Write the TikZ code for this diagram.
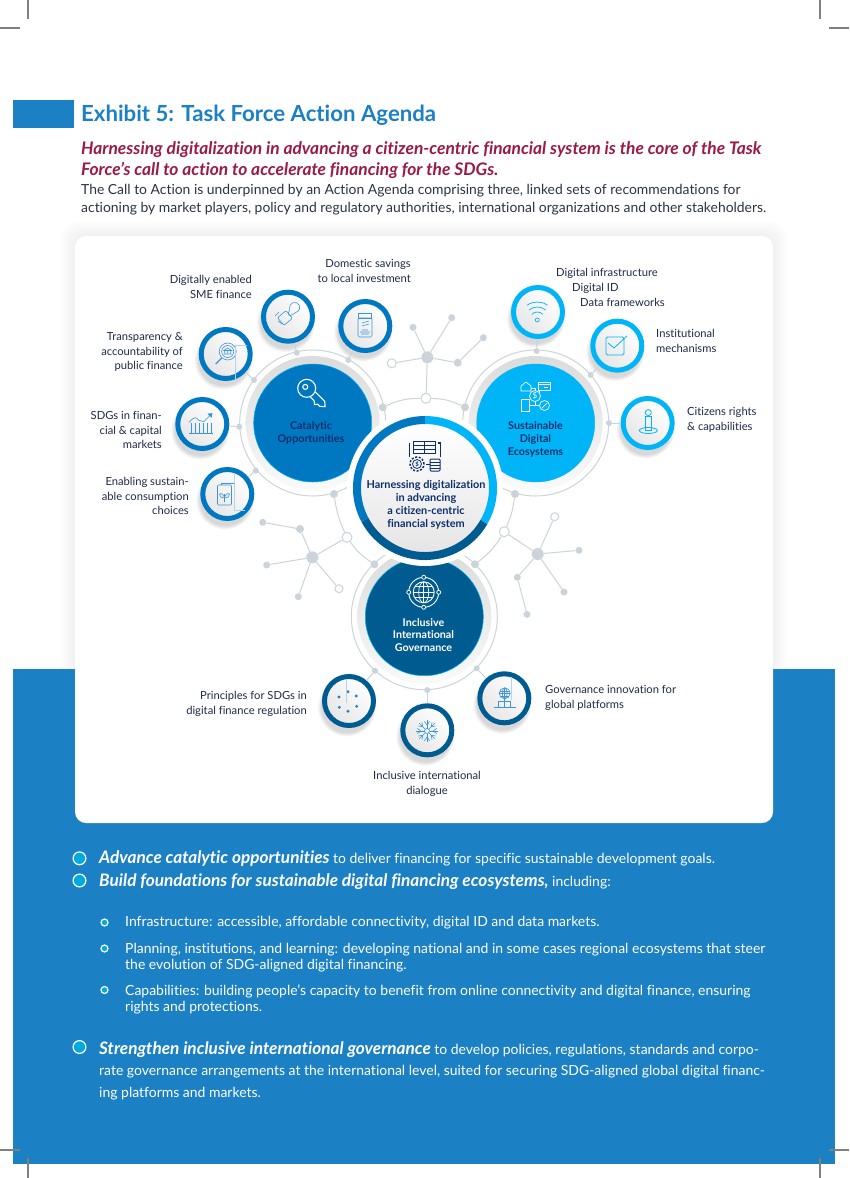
\documentclass[tikz,border=0pt]{standalone}
\usepackage{fontspec}
\setmainfont{Lato}[Ligatures=NoCommon]
\usepackage{xcolor}
\usetikzlibrary{shapes,arrows,positioning,calc,shadows,fadings}

\definecolor{pageblue}{HTML}{1B80C4}
\definecolor{wine}{HTML}{9B1B44}
\definecolor{bodyc}{HTML}{2B3442}
\definecolor{labc}{HTML}{1E2A48}
\definecolor{navy}{HTML}{0B2F6E}
\definecolor{midblue}{HTML}{0078C1}
\definecolor{skyblue}{HTML}{00B5F7}
\definecolor{deepblue}{HTML}{005B90}
\definecolor{netgrey}{HTML}{CBD4DB}
\definecolor{icon}{HTML}{3A95DA}
\definecolor{bullet}{HTML}{00A9E0}

\tikzset{
    lab/.style={font=\fontsize{11.2}{14.7}\selectfont, text=labc, inner sep=0pt},
    hub/.style={circle, fill=netgrey, minimum size=#1, inner sep=0pt},
    hub/.default=8pt,
    open/.style={circle, draw=netgrey, fill=white, line width=1pt, minimum size=#1, inner sep=0pt},
    open/.default=10pt,
    net/.style={draw=netgrey, line width=1pt},
    ringc/.style={circle, draw=netgrey, fill=white, line width=1pt, minimum size=146pt, inner sep=0pt},
    halo/.style={circle, top color=black!14, bottom color=black!2, minimum size=134pt, inner sep=0pt},
    disc/.style={circle, fill=#1, minimum size=118pt, inner sep=0pt},
    pillartext/.style={align=center, inner sep=0pt, font=\fontsize{10.7}{12.6}\selectfont\bfseries},
    sat/.style={circle, draw=#1, line width=5pt, minimum size=49pt, inner sep=0pt,
        left color=white, right color=black!10, shading angle=-45,
        circular drop shadow={shadow xshift=-2pt, shadow yshift=-5pt, shadow scale=1.2, opacity=.3},
        general shadow={shadow xshift=-1.2pt, shadow yshift=-1.2pt, fill=#1!75!black}},
    ico/.style={draw=icon, line width=.6pt},
    faint/.style={draw=icon!40, line width=.4pt},
    whiteico/.style={draw=white, line width=1.1pt},
    head/.style={font=\fontsize{13.9}{16}\selectfont, text=bodyc, inner sep=0pt, anchor=base west},
    ontext/.style={font=\fontsize{13.96}{16}\selectfont, text=white, inner sep=0pt, anchor=base west},
    bul/.style={circle, fill=bullet, draw=white, line width=1.2pt, minimum size=12.8pt, inner sep=0pt},
    subbul/.style={circle, fill=bullet, draw=white, line width=1.2pt, minimum size=7pt, inner sep=0pt},
}
\newcommand{\bigit}[1]{{\fontsize{17.2}{16}\selectfont\bfseries\itshape #1}}

\begin{document}
\begin{tikzpicture}[x=1pt, y=-1pt]
    \useasboundingbox (0,0) rectangle (849,1178);
    \fill[white] (0,0) rectangle (849,1178);

    % Page blocks
    \foreach \sp in {2,4,...,14} {
        \fill[black, opacity=.008, rounded corners=13pt] (75-\sp,236-\sp) rectangle (773+\sp,700);
    }
    \fill[pageblue] (13,100) rectangle (74,128);
    \fill[pageblue] (13,669) rectangle (835,1164);
    \fill[white, rounded corners=11pt] (75,236) rectangle (773,823);

    % Crop marks
    \draw[gray, line width=1.1pt] (28,0) -- (28,19) (0,28) -- (20,28);
    \draw[gray, line width=1.1pt] (820,0) -- (820,19) (829,28) -- (849,28);
    \draw[gray, line width=1.1pt] (28,1158) -- (28,1178) (0,1150) -- (20,1150);
    \draw[gray, line width=1.1pt] (820,1158) -- (820,1178) (829,1150) -- (849,1150);

    % Heading
    \node[inner sep=0pt, anchor=base west, text=pageblue, font=\fontsize{22.2}{24}\selectfont\bfseries] (title) at (81,121.3) {Exhibit 5: Task Force Action Agenda};
    \node[inner sep=0pt, anchor=base west, text=wine, font=\fontsize{17.35}{20}\selectfont\bfseries\itshape] (subone) at (81,154.5) {Harnessing digitalization in advancing a citizen-centric financial system is the core of the Task};
    \node[inner sep=0pt, anchor=base west, text=wine, font=\fontsize{17.35}{20}\selectfont\bfseries\itshape] (subtwo) at (81,175.5) {Force’s call to action to accelerate financing for the SDGs.};
    \node[head] (introone) at (81,194) {The Call to Action is underpinned by an Action Agenda comprising three, linked sets of recommendations for};
    \node[head] (introtwo) at (81,212.7) {actioning by market players, policy and regulatory authorities, international organizations and other stakeholders.};

    % Rings of the three pillars
    \node[ringc] (catring) at (312.7,423) {};
    \node[ringc] (susring) at (535.7,423) {};
    \node[ringc] (govring) at (424.3,616.7) {};
    \node[halo] at (catring) {};
    \node[halo] at (susring) {};
    \node[halo] at (govring) {};

    % Top network
    \node[hub=12pt] (tophub) at (427.3,357.3) {};
    \node[hub=7pt] (topa) at (451.7,317.7) {};
    \node[hub=8pt] (topb) at (457.7,362.7) {};
    \node[hub=7pt] (topc) at (483.3,337.7) {};
    \node[hub=7pt] (topd) at (413,327.3) {};
    \node[open=9pt] (tope) at (391.7,363.3) {};
    \node[open=10pt] (topf) at (426,398.3) {};
    \node[hub=8pt] (topl) at (382.7,407.3) {};
    \node[hub=8pt] (topr) at (465,407.3) {};
    \draw[net] (tophub) -- (topa);
    \draw[net] (tophub) -- (topb);
    \draw[net] (topb) -- (topc);
    \draw[net] (tophub) -- (topd);
    \draw[net] (tophub) -- (tope);
    \draw[net] (tophub) -- (topf);
    \draw[net] (topl) to[bend left=12] (topf);
    \draw[net] (topf) to[bend left=12] (topr);

    % Left network
    \node[hub=12pt] (lefthub) at (312.3,557.3) {};
    \node[hub=8pt] (lefta) at (300,529) {};
    \node[hub=7pt] (leftb) at (262.7,522.3) {};
    \node[hub=7pt] (leftc) at (266.7,565) {};
    \node[hub=7pt] (leftd) at (298.3,596.7) {};
    \node[open=8pt] (lefte) at (339,588.7) {};
    \node[open=10pt] (leftf) at (347,537.3) {};
    \node[hub=8pt] (leftt) at (334,494) {};
    \node[hub=8pt] (leftl) at (374.3,564.3) {};
    \draw[net] (lefthub) -- (lefta);
    \draw[net] (lefta) -- (leftb);
    \draw[net] (lefthub) -- (leftc);
    \draw[net] (lefthub) -- (leftd);
    \draw[net] (lefthub) -- (lefte);
    \draw[net] (lefthub) -- (leftf);
    \draw[net] (leftt) to[bend right=8] (leftf);
    \draw[net] (leftf) to[bend right=10] (leftl);

    % Right network
    \node[hub=12pt] (righthub) at (537.7,554) {};
    \node[open=10pt] (righta) at (504.3,531.7) {};
    \node[open=8pt] (rightb) at (554.7,516.7) {};
    \node[hub=7pt] (rightc) at (579,550.3) {};
    \node[hub=7pt] (rightd) at (564,592) {};
    \node[hub=7pt] (righte) at (517.3,577.3) {};
    \node[hub=7pt] (rightf) at (527,614.3) {};
    \node[hub=8pt] (rightt) at (515,494) {};
    \node[hub=8pt] (rightl) at (475,564.3) {};
    \draw[net] (righthub) -- (righta);
    \draw[net] (righthub) -- (rightb);
    \draw[net] (righthub) -- (rightc);
    \draw[net] (righthub) -- (rightd);
    \draw[net] (righthub) -- (righte);
    \draw[net] (righte) -- (rightf);
    \draw[net] (rightt) to[bend left=8] (righta);
    \draw[net] (righta) to[bend left=10] (rightl);

    % Pillars
    \node[disc=midblue, draw=skyblue, line width=.5pt] (catalytic) at (catring) {};
    \node[disc=skyblue, draw=skyblue] (sustain) at (susring) {};
    \node[disc=deepblue, draw=skyblue, line width=.5pt] (govern) at (govring) {};
    \node[pillartext, text=navy] (cattext) at (311,433) {Catalytic\\Opportunities};
    \node[pillartext, text=navy] (sustext) at (535.5,439.5) {Sustainable\\Digital\\Ecosystems};
    \node[pillartext, text=white] (govtext) at (423.5,635) {Inclusive\\International\\Governance};

    % Pillar icons
    \begin{scope}[shift={(306.7,388.3)}, rotate=-45]
        \draw[whiteico] (0,0) circle[radius=9pt];
        \draw[whiteico] (-2,0) circle[radius=2.5pt];
        \draw[whiteico] (8.5,-3.5) -- (22,-3.5) -- (26,0) -- (22,3.5) -- (19,3.5) -- (17,6) -- (14,3.5) -- (8.5,3.5);
    \end{scope}
    \begin{scope}[shift={(535,396)}, whiteico/.style={draw=white, line width=.7pt}]
        \draw[whiteico] (0,0) circle[radius=5.5pt];
        \node[text=white, font=\fontsize{8}{8}\selectfont, inner sep=0pt] (susdollar) at (0,0) {\$};
        \draw[whiteico] (-14,-5) -- (-14,-10) -- (-9,-14) -- (-4,-10) -- (-4,-5) -- cycle;
        \draw[whiteico] (3,-14) rectangle (15,-6);
        \draw[whiteico] (3,-11.5) -- (15,-11.5) (9,-8.5) -- (13,-8.5);
        \draw[whiteico] (-14,3.5) rectangle (-6,15);
        \draw[whiteico] (9.5,9.5) circle[radius=5pt];
        \draw[whiteico] (7,12) -- (12,7);
        \draw[whiteico] (-4,-8) -- (0,-8) -- (0,-5.5);
        \draw[whiteico] (-6,9.5) -- (0,9.5) -- (0,5.5) (0,9.5) -- (4.5,9.5);
        \draw[whiteico] (4,-6) -- (4,-3.5);
    \end{scope}
    \begin{scope}[shift={(423.7,592.3)}]
        \draw[whiteico, line width=.9pt] (0,0) circle[radius=10.5pt];
        \draw[whiteico, line width=.7pt] (0,0) ellipse[x radius=5pt, y radius=10.5pt];
        \draw[whiteico, line width=.7pt] (0,-10.5) -- (0,10.5) (-10.5,0) -- (10.5,0) (-9,-5.5) -- (9,-5.5) (-9,5.5) -- (9,5.5);
        \draw[whiteico, line width=.9pt] (0,0) circle[radius=15pt];
        \draw[whiteico, fill=deepblue, line width=.8pt] (0,-15) circle[radius=2pt];
        \draw[whiteico, fill=deepblue, line width=.8pt] (0,15) circle[radius=2pt];
        \draw[whiteico, fill=deepblue, line width=.8pt] (-15,0) circle[radius=2pt];
        \draw[whiteico, fill=deepblue, line width=.8pt] (15,0) circle[radius=2pt];
    \end{scope}

    % Core
    \node[circle, fill=white, minimum size=156pt, inner sep=0pt] (corehalo) at (425,488) {};
    \node[circle, top color=white, bottom color=black!10, minimum size=128pt, inner sep=0pt] (core) at (425,488) {};
    \draw[line width=8pt, skyblue] ($(core)+(90:68pt)$) arc[start angle=90, end angle=-30, radius=68pt];
    \draw[line width=8pt, deepblue] ($(core)+(-30:68pt)$) arc[start angle=-30, end angle=-152, radius=68pt];
    \draw[line width=8pt, midblue] ($(core)+(-152:68pt)$) arc[start angle=-152, end angle=-270, radius=68pt];
    \node[text=navy, align=center, font=\fontsize{10.9}{13}\selectfont\bfseries, inner sep=0pt] (coretext) at (426,505) {Harnessing digitalization\\in advancing\\a citizen-centric\\financial system};
    \begin{scope}[shift={(425,457)}, line width=1pt]
        \draw[navy] (-12,-16) rectangle (10,-4);
        \draw[navy] (-12,-12) -- (10,-12) (-12,-8) -- (10,-8) (-1,-16) -- (-1,-4);
        \draw[navy, line width=1.5pt] (-15.5,-14) -- (-15.5,0) (13,-14) -- (15.5,-14) -- (15.5,0);
        \draw[navy, dashed, line width=1.5pt, dash pattern=on 2pt off 1.6pt] (-8,7) circle[radius=7pt];
        \draw[navy, line width=.8pt] (-8,7) circle[radius=4.5pt];
        \node[text=navy, font=\fontsize{6}{6}\selectfont\bfseries, inner sep=0pt] (coredollar) at (-8,7) {\$};
        \draw[navy, rounded corners=1pt] (5,2) rectangle (15,14);
        \draw[navy] (5,5) -- (15,5) (5,8) -- (15,8) (5,11) -- (15,11);
        \draw[navy] (1,7) -- (5,7);
    \end{scope}

    % Satellites of the catalytic pillar
    \node[sat=midblue] (sme) at (288,316.7) {};
    \node[sat=midblue] (savings) at (365.3,326) {};
    \node[sat=midblue] (public) at (225.7,354) {};
    \node[sat=midblue] (markets) at (202.3,424) {};
    \node[sat=midblue] (choices) at (227.3,494) {};
    \node[hub=6pt] (smedot) at (296.7,352.7) {};
    \node[hub=6pt] (savdot) at (348.3,360) {};
    \node[hub=6pt] (pubdot) at (254,380) {};
    \node[hub=6pt] (mardot) at (239.3,426.7) {};
    \node[hub=6pt] (chodot) at (255.7,470.7) {};
    \draw[net] (sme) -- (smedot);
    \draw[net] (savings) -- (savdot);
    \draw[net] (public) -- (pubdot);
    \draw[net] (markets) -- (mardot);
    \draw[net] (choices) -- (chodot);

    % Satellites of the sustainable pillar
    \node[sat=skyblue] (wifi) at (538,312) {};
    \node[sat=skyblue] (inst) at (617.3,345.7) {};
    \node[sat=skyblue] (citizens) at (647.7,423) {};
    \node[hub=6pt] (wifidot) at (536.7,351) {};
    \node[hub=6pt] (instdot) at (590.7,375) {};
    \node[hub=6pt] (citdot) at (609,423) {};
    \draw[net] (wifi) -- (wifidot);
    \draw[net] (inst) -- (instdot);
    \draw[net] (citizens) -- (citdot);

    % Satellites of the governance pillar
    \node[sat=deepblue] (rules) at (349,701) {};
    \node[sat=deepblue] (dialogue) at (427.3,730.3) {};
    \node[sat=deepblue] (platforms) at (504.3,698.3) {};
    \node[hub=6pt] (ruledot) at (375,670.7) {};
    \node[hub=6pt] (diadot) at (427.3,690) {};
    \node[hub=6pt] (platdot) at (476.7,668.3) {};
    \draw[net] (rules) -- (ruledot);
    \draw[net] (dialogue) -- (diadot);
    \draw[net] (platforms) -- (platdot);

    % Satellite icons, left
    \begin{scope}[shift={(287,315)}, ico/.append style={rounded corners=1pt}]
        \draw[ico, rotate=40] (-9,-4) rectangle (2,6);
        \draw[ico] (1,-1) -- (3,-6) arc[start angle=200, end angle=-60, radius=5pt] -- (3,1) -- cycle;
        \draw[ico] (-12,1) -- (-8,-3) (-9,6) -- (-5,9);
    \end{scope}
    \begin{scope}[shift={(365,325)}]
        \draw[ico] (-6.5,-12) rectangle (6.5,-7);
        \draw[ico, rounded corners=1.5pt] (-7,-7) rectangle (7,12);
        \draw[ico] (-3,-2) -- (4,-4) (-3,1) -- (4,-1) (-5,7) -- (5,7) (-4,9) -- (4,9) (-3,5) -- (3,5);
    \end{scope}
    \begin{scope}[shift={(225.7,354)}]
        \draw[ico] (2,-2.5) circle[radius=8.5pt];
        \draw[ico] (2,-2.5) circle[radius=6pt];
        \draw[ico] (-2,0) -- (6,0) (-1,-1) -- (-1,-3) (2,-1) -- (2,-3) (5,-1) -- (5,-3) (-2,-3.5) -- (2,-6) -- (6,-3.5) -- cycle;
        \draw[ico, line width=1.3pt] (-4,4) -- (-10,10);
    \end{scope}
    \draw[faint] (247,345) -- (235,345) -- (235,380);
    \begin{scope}[shift={(201,423.5)}]
        \draw[ico] (-12,10) -- (12,10);
        \foreach \xb in {-10,-6,-2,2,6,10} {\draw[ico] (\xb,9) -- (\xb,-1);}
        \draw[ico] (-12,-1) .. controls (-7,-7) and (-5,-7) .. (-2,-3) -- (3,-2) -- (11,-10);
        \draw[ico, fill=icon] (11,-10) -- (7,-9.5) -- (10.5,-6.5) -- cycle;
    \end{scope}
    \begin{scope}[shift={(224.5,495)}]
        \draw[ico, rounded corners=1pt] (-7,-10) rectangle (7,10);
        \draw[ico] (-3,-10) -- (-3,-12) -- (10,-12) (10,-12) -- (10,-9);
        \draw[ico] (0,7) -- (0,-1) (0,2) .. controls (-2,-2) and (-4,-2) .. (-5,-1) .. controls (-5,2) and (-3,3) .. (0,3) (0,2) .. controls (2,-2) and (4,-2) .. (5,-1) .. controls (5,2) and (3,3) .. (0,3);
    \end{scope}
    \draw[faint] (234.3,473) -- (234.3,510) -- (245,510);

    % Satellite icons, right
    \begin{scope}[shift={(537.3,320)}, ico/.style={draw=skyblue, line width=.7pt}]
        \draw[ico] (0,0) circle[radius=2pt];
        \draw[ico] (135:8pt) arc[start angle=135, end angle=45, radius=8pt];
        \draw[ico] (130:13pt) arc[start angle=130, end angle=50, radius=13pt];
        \draw[ico] (125:18pt) arc[start angle=125, end angle=55, radius=18pt];
    \end{scope}
    \begin{scope}[shift={(615,346)}, ico/.style={draw=skyblue, line width=.8pt}]
        \draw[ico, rounded corners=1.5pt] (-9,-9) rectangle (9,9);
        \draw[ico] (-7,-3) -- (-1,2) -- (12,-10);
    \end{scope}
    \begin{scope}[shift={(648.3,422)}, ico/.style={draw=skyblue, line width=.8pt}]
        \draw[ico] (0,-9.5) circle[radius=3pt];
        \draw[ico] (-3,-6) rectangle (3,8);
        \draw[ico] (0,8.5) ellipse[x radius=9pt, y radius=3pt];
    \end{scope}

    % Satellite icons, lower
    \fill[pageblue] (348,691.7) circle[radius=1.6pt] (356.3,696) circle[radius=1.6pt] (356.7,706.3) circle[radius=1.6pt] (348,711.3) circle[radius=1.6pt] (339.3,707.3) circle[radius=1.6pt] (339,697) circle[radius=1.6pt];
    \draw[faint] (346.3,680) -- (346.3,703);
    \begin{scope}[shift={(427,731)}]
        \foreach \ang in {0,45,...,315} {
            \draw[ico] (\ang:2.5pt) -- (\ang:11pt);
            \draw[ico] (\ang:6pt) -- ([shift={(\ang:6pt)}]\ang+35:4.5pt);
            \draw[ico] (\ang:6pt) -- ([shift={(\ang:6pt)}]\ang-35:4.5pt);
        }
        \draw[ico] (0,0) circle[radius=2.5pt];
    \end{scope}
    \draw[faint] (511,677) -- (511,700);
    \begin{scope}[shift={(504.7,693.3)}]
        \draw[ico] (0,0) circle[radius=5.5pt];
        \draw[ico] (0,0) ellipse[x radius=2.5pt, y radius=5.5pt];
        \draw[ico] (-5.5,0) -- (5.5,0) (-4.5,-2.5) -- (4.5,-2.5) (-4.5,2.5) -- (4.5,2.5) (0,-5.5) -- (0,8);
        \draw[ico] (-6,12) -- (-6,8) -- (6,8) -- (6,12);
        \draw[ico] (-11,14) -- (11,14) (-6,12) -- (-6,14) (6,12) -- (6,14) (0,8) -- (0,14);
    \end{scope}

    % Satellite labels
    \node[lab, anchor=east, align=right] (smelab) at (252,287) {Digitally enabled\\SME finance};
    \node[lab, anchor=east, align=right] (savlab) at (411,271) {Domestic savings\\to local investment};
    \node[lab, anchor=east, align=right] (publab) at (183,352) {Transparency \&\\accountability of\\public finance};
    \node[lab, anchor=east, align=right] (marlab) at (162,430) {SDGs in finan-\\cial \& capital\\markets};
    \node[lab, anchor=east, align=right] (cholab) at (189,496) {Enabling sustain-\\able consumption\\choices};
    \node[lab, anchor=west] (wifilab) at (556,273.2) {Digital infrastructure};
    \node[lab, anchor=west] (idlab) at (572,288.2) {Digital ID};
    \node[lab, anchor=west] (datalab) at (580,302.2) {Data frameworks};
    \node[lab, anchor=west, align=left] (instlab) at (656,341) {Institutional\\mechanisms};
    \node[lab, anchor=west, align=left] (citlab) at (687,420) {Citizens rights\\\& capabilities};
    \node[lab, anchor=east, align=right] (rulelab) at (307,704) {Principles for SDGs in\\digital finance regulation};
    \node[lab, align=center] (dialab) at (427,784) {Inclusive international\\dialogue};
    \node[lab, anchor=west, align=left] (platlab) at (545,698) {Governance innovation for\\global platforms};

    % Lower text
    \node[bul] (bulone) at (79.5,858.3) {};
    \node[bul] (bultwo) at (79.5,880.5) {};
    \node[bul] (bulthree) at (79.5,1047) {};
    \node[subbul] (subbulone) at (104.5,922.5) {};
    \node[subbul] (subbultwo) at (104.5,948.5) {};
    \node[subbul] (subbulthree) at (104.5,990) {};
    \node[ontext] (lineone) at (99,863.2) {\bigit{Advance catalytic opportunities} to deliver financing for specific sustainable development goals.};
    \node[ontext] (linetwo) at (99,886.5) {\bigit{Build foundations for sustainable digital financing ecosystems,} including:};
    \node[ontext] (linethree) at (125,926.5) {Infrastructure: accessible, affordable connectivity, digital ID and data markets.};
    \node[ontext] (linefour) at (125,953) {Planning, institutions, and learning: developing national and in some cases regional ecosystems that steer};
    \node[ontext] (linefive) at (125,969) {the evolution of SDG-aligned digital financing.};
    \node[ontext] (linesix) at (125,995) {Capabilities: building people’s capacity to benefit from online connectivity and digital finance, ensuring};
    \node[ontext] (lineseven) at (125,1011) {rights and protections.};
    \node[ontext] (lineeight) at (99,1054) {\bigit{Strengthen inclusive international governance} to develop policies, regulations, standards and corpo-};
    \node[ontext] (linenine) at (99,1075) {rate governance arrangements at the international level, suited for securing SDG-aligned global digital financ-};
    \node[ontext] (lineten) at (99,1097) {ing platforms and markets.};
\end{tikzpicture}
\end{document}
